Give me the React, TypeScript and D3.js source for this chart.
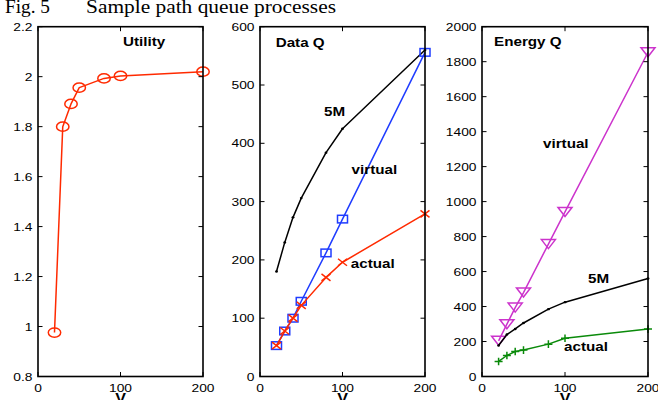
import React from "react";
import * as d3 from "d3";

const V = [20, 30, 40, 50, 80, 100, 200];

const utility = [0.976, 1.8, 1.891, 1.956, 1.993, 2.003, 2.02];

const dataVirtual = [53, 78, 100, 129, 212, 270, 556];
const dataActual = [53, 78, 100, 122, 170, 196, 279];
const data5M = [180, 230, 273, 306, 384, 425, 560];

const energyVirtual = [204, 299, 394, 480, 757, 941, 1854];
const energy5M = [177, 240, 272, 306, 385, 425, 560];
const energyActual = [86, 120, 143, 151, 185, 219, 271];

const xTicks = [0, 100, 200];
const utilTicks = [0.8, 1, 1.2, 1.4, 1.6, 1.8, 2, 2.2];
const dataTicks = [0, 100, 200, 300, 400, 500, 600];
const energyTicks = [0, 200, 400, 600, 800, 1000, 1200, 1400, 1600, 1800, 2000];

const RED = "#ff2a00";
const BLUE = "#1f3cff";
const MAGENTA = "#cc33cc";
const GREEN = "#0a8a0a";

const TOP = 26.7;
const BOTTOM = 376.5;
const SANS = "'Liberation Sans', Arial, Helvetica, sans-serif";
const SERIF = "'Liberation Serif', 'Times New Roman', serif";

type Series = { values: number[]; color: string; marker: string };
type Note = { text: string; x: number; y: number };

function Marker({ kind, x, y, color }: { kind: string; x: number; y: number; color: string }) {
  const sw = 1.5;
  if (kind === "o") return <ellipse cx={x} cy={y} rx={6.2} ry={4.6} fill="none" stroke={color} strokeWidth={sw} />;
  if (kind === "s") return <rect x={x - 5} y={y - 3.8} width={10} height={7.6} fill="none" stroke={color} strokeWidth={sw} />;
  if (kind === "v")
    return <polygon points={`${x - 7},${y - 4.5} ${x + 7},${y - 4.5} ${x},${y + 4.5}`} fill="none" stroke={color} strokeWidth={sw} />;
  if (kind === "x")
    return <path d={`M${x - 4.5},${y - 3.5}L${x + 4.5},${y + 3.5}M${x - 4.5},${y + 3.5}L${x + 4.5},${y - 3.5}`} stroke={color} strokeWidth={sw} />;
  if (kind === "+")
    return <path d={`M${x - 4},${y}L${x + 4},${y}M${x},${y - 3.8}L${x},${y + 3.8}`} stroke={color} strokeWidth={sw} />;
  return <ellipse cx={x} cy={y} rx={1.4} ry={1.2} fill={color} />;
}

function Panel(props: {
  left: number;
  right: number;
  yDomain: [number, number];
  yTicks: number[];
  series: Series[];
  notes: Note[];
}) {
  const { left, right, yDomain, yTicks, series, notes } = props;
  const x = d3.scaleLinear().domain([0, 200]).range([left, right]);
  const y = d3.scaleLinear().domain(yDomain).range([BOTTOM, TOP]);
  const line = d3
    .line<number>()
    .x((_, i) => x(V[i]))
    .y((d) => y(d));
  const fmt = (v: number) => String(+v.toFixed(1));
  const tl = 4.5;

  return (
    <g>
      {series.map((s, si) => (
        <g key={si}>
          <path d={line(s.values) || ""} fill="none" stroke={s.color} strokeWidth={1.5} strokeLinejoin="round" />
          {s.values.map((v, i) => (
            <Marker key={i} kind={s.marker} x={x(V[i])} y={y(v)} color={s.color} />
          ))}
        </g>
      ))}
      <rect x={left} y={TOP} width={right - left} height={BOTTOM - TOP} fill="none" stroke="#000" strokeWidth={1.6} />
      {yTicks.map((t) => (
        <g key={t}>
          <line x1={left} x2={left + tl} y1={y(t)} y2={y(t)} stroke="#000" strokeWidth={1} />
          <line x1={right} x2={right - tl} y1={y(t)} y2={y(t)} stroke="#000" strokeWidth={1} />
          <text
            transform={`translate(${left - 5.5},${y(t) + 4}) scale(1.2,1)`}
            textAnchor="end"
            fontFamily={SANS}
            fontSize={11.5}
          >
            {fmt(t)}
          </text>
        </g>
      ))}
      {xTicks.map((t) => (
        <g key={t}>
          <line x1={x(t)} x2={x(t)} y1={BOTTOM} y2={BOTTOM - tl} stroke="#000" strokeWidth={1} />
          <line x1={x(t)} x2={x(t)} y1={TOP} y2={TOP + tl} stroke="#000" strokeWidth={1} />
          <text
            transform={`translate(${x(t)},${391.5}) scale(1.2,1)`}
            textAnchor="middle"
            fontFamily={SANS}
            fontSize={11.5}
          >
            {t}
          </text>
        </g>
      ))}
      <text
        transform={`translate(${(left + right) / 2},${403}) scale(1.15,1)`}
        textAnchor="middle"
        fontFamily={SANS}
        fontWeight="bold"
        fontSize={14}
      >
        V
      </text>
      {notes.map((n) => (
        <text
          key={n.text}
          transform={`translate(${x(n.x)},${y(n.y)}) scale(1.17,1)`}
          fontFamily={SANS}
          fontWeight="bold"
          fontSize={13}
        >
          {n.text}
        </text>
      ))}
    </g>
  );
}

export default function App() {
  return (
    <svg
      width={658}
      height={400}
      viewBox="0 0 658 400"
      style={{ position: "absolute", left: 0, top: 0, background: "#fff" }}
    >
      <rect width={658} height={400} fill="#fff" />
      <text x={5} y={12.5} fontFamily={SERIF} fontSize={19} textLength={45} lengthAdjust="spacingAndGlyphs">
        Fig. 5
      </text>
      <text x={86} y={12.5} fontFamily={SERIF} fontSize={19} textLength={250} lengthAdjust="spacingAndGlyphs">
        Sample path queue processes
      </text>
      <Panel
        left={38}
        right={203}
        yDomain={[0.8, 2.2]}
        yTicks={utilTicks}
        series={[{ values: utility, color: RED, marker: "o" }]}
        notes={[{ text: "Utility", x: 103, y: 2.123 }]}
      />
      <Panel
        left={260}
        right={425}
        yDomain={[0, 600]}
        yTicks={dataTicks}
        series={[
          { values: data5M, color: "#000", marker: "." },
          { values: dataVirtual, color: BLUE, marker: "s" },
          { values: dataActual, color: RED, marker: "x" },
        ]}
        notes={[
          { text: "Data Q", x: 19, y: 566 },
          { text: "5M", x: 77.6, y: 447 },
          { text: "virtual", x: 111, y: 347.6 },
          { text: "actual", x: 110, y: 186 },
        ]}
      />
      <Panel
        left={482}
        right={648}
        yDomain={[0, 2000]}
        yTicks={energyTicks}
        series={[
          { values: energyVirtual, color: MAGENTA, marker: "v" },
          { values: energy5M, color: "#000", marker: "." },
          { values: energyActual, color: GREEN, marker: "+" },
        ]}
        notes={[
          { text: "Energy Q", x: 14.5, y: 1889 },
          { text: "virtual", x: 73.5, y: 1306 },
          { text: "5M", x: 127.7, y: 534 },
          { text: "actual", x: 98.8, y: 146 },
        ]}
      />
    </svg>
  );
}
